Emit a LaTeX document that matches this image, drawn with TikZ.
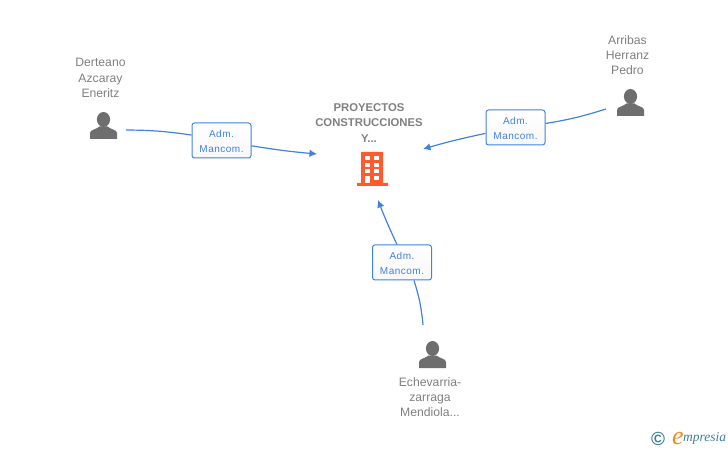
\documentclass[tikz,border=0pt]{standalone}
\usepackage{fontspec}
\setmainfont{Liberation Sans}
\usetikzlibrary{arrows.meta, positioning}
\definecolor{linkblue}{HTML}{3F82E0}
\definecolor{textgray}{HTML}{808080}
\definecolor{icongray}{HTML}{6E6E6E}
\definecolor{buildorange}{HTML}{FF5A30}
\definecolor{logoteal}{HTML}{3E7F96}
\definecolor{logoorange}{HTML}{F08A1E}
\newfontfamily\logofont{Liberation Serif}
\newfontfamily\rolefont[LetterSpace=5]{Liberation Sans}
\newcommand{\roletext}{\rule{0pt}{9.2pt}Adm.\\Mancom.}
\tikzset{
  rolebox/.style={draw=linkblue, line width=1pt, rounded corners=2.5pt, top color=white, bottom color=black!3, text=linkblue, font=\rolefont\fontsize{10}{15}\selectfont, align=center, minimum width=59pt, minimum height=35pt, inner sep=0pt},
  personlabel/.style={text=textgray, font=\fontsize{12.2}{15.3}\selectfont, align=center, inner sep=0pt},
  personbox/.style={minimum width=27pt, minimum height=27pt, inner sep=0pt},
  link/.style={draw=linkblue, line width=1.2pt},
}
% person icon, drawn at the centre of a named node
\newcommand{\personicon}[1]{
  \fill[icongray, shift={(#1.center)}] (0,6) ellipse (6.6 and 7.5);
  \fill[icongray, shift={(#1.center)}] (-13.5,-13.5) -- (-13.5,-7.5) .. controls (-13.5,-4) and (-7,-4) .. (-4,-1) -- (4,-1) .. controls (7,-4) and (13.5,-4) .. (13.5,-7.5) -- (13.5,-13.5) -- cycle;
}
\begin{document}
\begin{tikzpicture}[x=1pt, y=1pt, >={Latex[length=7.5pt,width=7.5pt]}]
\useasboundingbox (0,0) rectangle (728,450);

% persons
\node[personbox] (derteano) at (103.5,324.5) {};
\node[personbox] (arribas) at (630.5,347.5) {};
\node[personbox] (echevarria) at (432.5,95.5) {};
\personicon{derteano}
\personicon{arribas}
\personicon{echevarria}
\node[personlabel] (derteanolabel) at (100.5,372) {Derteano\\Azcaray\\Eneritz};
\node[personlabel] (arribaslabel) at (627.5,395) {Arribas\\Herranz\\Pedro};
\node[personlabel] (echevarrialabel) at (430,53) {Echevarria-\\zarraga\\Mendiola...};

% company
\node[text=textgray, font=\bfseries\fontsize{11.3}{15.3}\selectfont, align=center, inner sep=0pt] (company) at (369,327) {PROYECTOS\\CONSTRUCCIONES\\Y...};
\node[inner sep=0pt, minimum width=31pt, minimum height=34pt] (building) at (372.5,281) {};
\fill[buildorange] (361,298) rectangle (383,267) (357,267) rectangle (388,264);
\foreach \wx in {365,374} \foreach \wy in {290,283,277}
  \fill[white] (\wx,\wy) rectangle ++(4.5,4);
\fill[white] (365,267) rectangle ++(4.5,7);
\fill[white] (374,270) rectangle ++(4.5,4);

% role boxes
\node[rolebox] (roleleft) at (221.5,309.5) {\roletext};
\node[rolebox] (roleright) at (515.5,322.5) {\roletext};
\node[rolebox] (rolebottom) at (402,187.5) {\roletext};

% connector ends
\coordinate (startleft) at (126,320);
\coordinate (endleft) at (317,296);
\coordinate (startright) at (606,341);
\coordinate (endright) at (423,301);
\coordinate (startbottom) at (423,125);
\coordinate (endbottom) at (378,250);

\draw[link] (startleft) to[bend left=4] (roleleft);
\draw[link, ->] (roleleft) to[bend right=2] (endleft);
\draw[link] (startright) to[bend left=4] (roleright);
\draw[link, ->] (roleright) to[bend right=2] (endright);
\draw[link] (startbottom) to[bend right=6] ([xshift=12pt]rolebottom.south);
\draw[link, ->] ([xshift=-5pt]rolebottom.north) to[bend left=2] (endbottom);

% logo
\node[text=logoteal, inner sep=0pt, font=\bfseries\fontsize{19}{19}\selectfont] (copyrightmark) at (658,11.5) {©};
\node[text=logoorange, inner sep=0pt, font=\logofont\itshape\fontsize{26}{26}\selectfont] (logoe) at (678,11.5) {e};
\node[text=logoteal, inner sep=0pt, anchor=west, font=\logofont\itshape\fontsize{13.5}{14}\selectfont] (logotext) at (683,11.5) {mpresia};
\end{tikzpicture}
\end{document}
